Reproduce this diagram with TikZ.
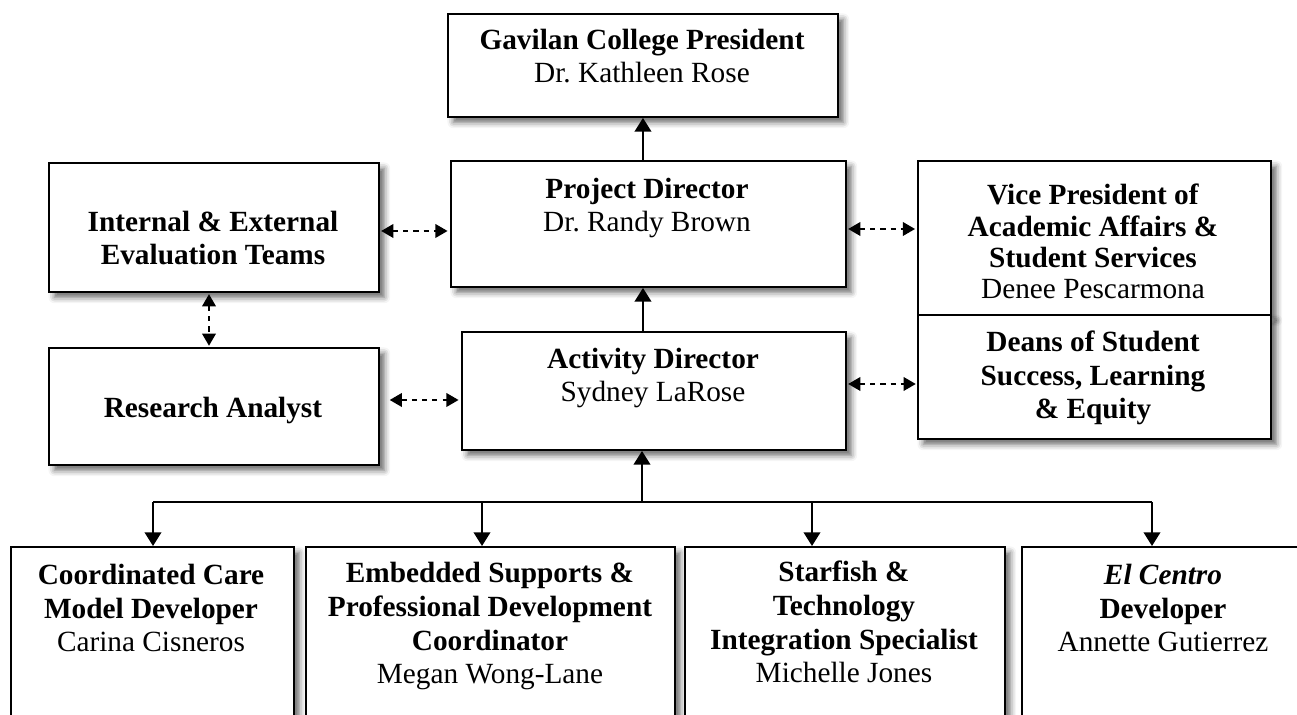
\documentclass[tikz,border=0pt]{standalone}
\usepackage{fontspec}
\setmainfont{Liberation Serif}
\usetikzlibrary{arrows.meta,shadows.blur}
\newdimen\pxu \pxu=0.4096pt
\frenchspacing

\begin{document}
\begin{tikzpicture}[x=0.4096pt, y=-0.4096pt]
    \tikzset{
      box/.style={draw, line width=0.8pt, fill=white, anchor=north west, inner sep=0pt,
        blur shadow={shadow xshift=2.2pt, shadow yshift=-2.2pt, shadow blur radius=2.4pt, shadow opacity=60}},
      txt/.style={align=center, anchor=base, inner sep=0pt, font=\fontsize{12}{13.9}\selectfont},
      arr/.style={line width=0.8pt, -{Triangle[length=5.6pt,width=6.8pt]}},
      dsh/.style={line width=0.7pt, dash pattern=on 2.1pt off 2.1pt,
        {Triangle[length=5pt,width=5.6pt]}-{Triangle[length=5pt,width=5.6pt]}}
    }
    \useasboundingbox (0,0) rectangle (1297,715);
    \clip (0,0) rectangle (1297,715);
    % middle column
    \node[box, minimum width=390\pxu, minimum height=103\pxu] (pres) at (447,13) {};
    \node[box, minimum width=395\pxu, minimum height=126\pxu] (proj) at (450,160) {};
    \node[box, minimum width=384\pxu, minimum height=118\pxu] (act) at (461,331) {};
    % left column
    \node[box, minimum width=330\pxu, minimum height=129\pxu] (eval) at (48,162) {};
    \node[box, minimum width=330\pxu, minimum height=117\pxu] (ra) at (48,347) {};
    % right column, two stacked boxes
    \node[box, minimum width=353\pxu, minimum height=154\pxu] (vp) at (917,160) {};
    \node[box, minimum width=353\pxu, minimum height=124\pxu] (deans) at (917,314) {};
    % bottom row, running off the page
    \node[box, minimum width=283\pxu, minimum height=200\pxu] (care) at (10,546) {};
    \node[box, minimum width=369\pxu, minimum height=200\pxu] (emb) at (305,546) {};
    \node[box, minimum width=320\pxu, minimum height=200\pxu] (star) at (684,546) {};
    \node[box, minimum width=284\pxu, minimum height=200\pxu] (cen) at (1021,546) {};

    % texts (placed by the baseline of their last line)
    \node[txt] (presT) at (642,83) {\textbf{Gavilan College President}\\Dr. Kathleen Rose};
    \node[txt] (projT) at (647,232) {\textbf{Project Director}\\Dr. Randy Brown};
    \node[txt] (actT) at (653,402) {\textbf{Activity Director}\\Sydney LaRose};
    \node[txt] (evalT) at (213,265) {\textbf{Internal \& External}\\\textbf{Evaluation Teams}};
    \node[txt] (raT) at (213,418) {\textbf{Research Analyst}};
    \node[txt, font=\fontsize{12}{12.9}\selectfont] (vpT) at (1093,299)
      {\textbf{Vice President of}\\\textbf{Academic Affairs \&}\\\textbf{Student Services}\\Denee Pescarmona};
    \node[txt] (deansT) at (1093,419)
      {\textbf{Deans of Student}\\\textbf{Success, Learning}\\\textbf{\& Equity}};
    \node[txt] (careT) at (151,652) {\textbf{Coordinated Care}\\\textbf{Model Developer}\\Carina Cisneros};
    \node[txt] (embT) at (490,684)
      {\textbf{Embedded Supports \&}\\\textbf{Professional Development}\\\textbf{Coordinator}\\Megan Wong-Lane};
    \node[txt] (starT) at (844,683)
      {\textbf{Starfish \&}\\\textbf{Technology}\\\textbf{Integration Specialist}\\Michelle Jones};
    \node[txt] (cenT) at (1163,652) {\textbf{\textit{El Centro}}\\\textbf{Developer}\\Annette Gutierrez};

    % reporting lines
    \draw[arr] (pres.south |- proj.north) -- (pres.south);
    \draw[arr] (pres.south |- act.north) -- (pres.south |- proj.south);
    \coordinate (bus) at (642,502);
    \coordinate (busL) at (153,502);
    \coordinate (busR) at (1152,502);
    \draw[arr] (bus) -- (bus |- act.south);
    \draw[line width=0.8pt] (busL) -- (busR);
    \foreach \x/\b in {153/care, 482/emb, 812/star, 1152/cen}
      \draw[arr] (\x,502) -- (\x,502 |- \b.north);

    % dashed links
    \draw[dsh, shorten <=0.5pt, shorten >=1pt] (eval.east |- 0,231) -- (proj.west |- 0,231);
    \draw[dsh, shorten <=4pt, shorten >=1pt] (ra.east |- 0,400) -- (act.west |- 0,400);
    \draw[dsh, shorten <=0.5pt, shorten >=0.8pt] (proj.east |- 0,229) -- (vp.west |- 0,229);
    \draw[dsh, shorten <=0.5pt, shorten >=0.5pt] (act.east |- 0,384) -- (deans.west |- 0,384);
    \draw[dsh, shorten <=0.5pt, shorten >=0.5pt] (eval.south -| 209,0) -- (ra.north -| 209,0);
\end{tikzpicture}
\end{document}
